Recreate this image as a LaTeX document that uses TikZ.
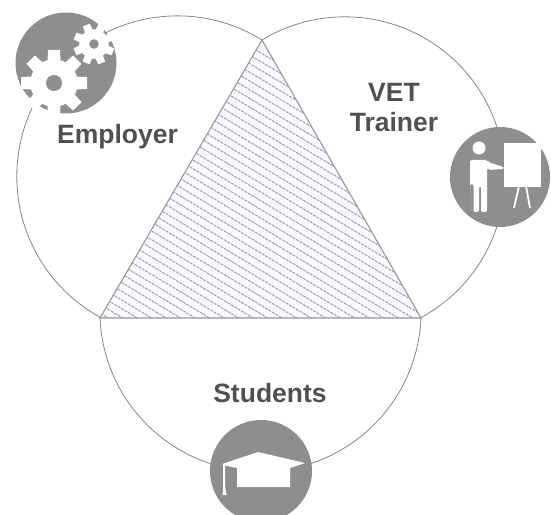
\documentclass[tikz,border=0pt]{standalone}
\usepackage{fontspec}
\setmainfont{Liberation Sans}
\definecolor{icongray}{HTML}{8E8E90}
\definecolor{labelgray}{HTML}{505052}
\definecolor{arcgray}{HTML}{858585}
\definecolor{hatchblue}{HTML}{9A9DBA}
\definecolor{hatchbg}{HTML}{FAFAFE}
\tikzset{
  venn/.style={draw=arcgray,line width=0.8pt},
  edge/.style={draw=arcgray!85,line width=1.1pt},
  hatchline/.style={draw=hatchblue,line width=1pt,dash pattern=on 3pt off 1pt},
  icon/.style={fill=icongray,draw=none},
  glyph/.style={fill=white,draw=none},
  glyphline/.style={draw=white,line cap=butt},
  lbl/.style={font=\bfseries\fontsize{26.5}{30}\selectfont,text=labelgray,align=center,inner sep=0pt},
  pics/gear/.style n args={3}{code={
    \foreach \a in {0,45,...,315}{
      \fill[white,rotate=\a+#3] (-#1*0.23,0) -- (-#1*0.18,#1) -- (#1*0.18,#1) -- (#1*0.23,0) -- cycle;
    }
    \fill[white] (0,0) circle[radius=#1*0.72];
    \fill[icongray] (0,0) circle[radius=#2];
  }}
}
\begin{document}
\begin{tikzpicture}[x=1pt,y=1pt]
\useasboundingbox (0,0) rectangle (551,514);
\coordinate (top) at (262,474);
\coordinate (left) at (100,196);
\coordinate (right) at (421,196);
% hatching
\fill[hatchbg] (top) -- (left) -- (right) -- cycle;
\begin{scope}
\clip (top) -- (left) -- (right) -- cycle;
\foreach \k in {-8,...,75}{
  \draw[hatchline] (80,{500-8.7*\k}) -- ++(370,-222);
}
\end{scope}
% triangle
\draw[edge] (top) -- (left) -- (right) -- cycle;
% big arcs
\draw[venn] (top) arc[start angle=58.2,end angle=241.4,radius=160.6];
\draw[venn] (top) arc[start angle=121.2,end angle=-61.7,radius=160];
\draw[venn] (left) arc[start angle=182.5,end angle=357.5,radius=160.65];
% icons
\begin{scope}[yshift=514pt,y=-1pt]
  % employer
  \fill[icon] (66,63) circle[radius=50.5];
  \pic at (54,83) {gear={33}{8}{0}};
  \pic at (94,44) {gear={20.5}{4.8}{22}};
  % trainer
  \fill[icon] (500,177) circle[radius=50];
  \fill[glyph] (479,148) circle[radius=6.5];
  \fill[glyph,rounded corners=2pt] (470,212) -- (470,160) -- (487,160) -- (490,163) -- (503,166.5) -- (504,169) -- (489,170) -- (487,168) -- (487,212) -- (481,212) -- (481,186) -- (479,186) -- (479,212) -- (473.5,212) -- (473.5,184) -- (470,184) -- cycle;
  \fill[glyph] (504,143) rectangle (541,187);
  \draw[glyphline,line width=1.8pt] (519,186) -- (514,208);
  \draw[glyphline,line width=1.8pt] (526,186) -- (530,208);
  % students
  \fill[icon] (261,471) circle[radius=51];
  \fill[glyph] (258,452) -- (305,463) -- (290,468) -- (290,487) -- (237,487) -- (237,468) -- (225,465.5) -- (225,486) -- (226.5,495) -- (222.5,495) -- (223.2,486) -- (223.2,465) -- (222,464) -- cycle;
\end{scope}
% labels
\node[lbl,anchor=base] (employer) at (117.5,370) {Employer};
\node[lbl] (trainer) at (394,406) {VET\\Trainer};
\node[lbl,anchor=base] (students) at (270,111) {Students};
\end{tikzpicture}
\end{document}
